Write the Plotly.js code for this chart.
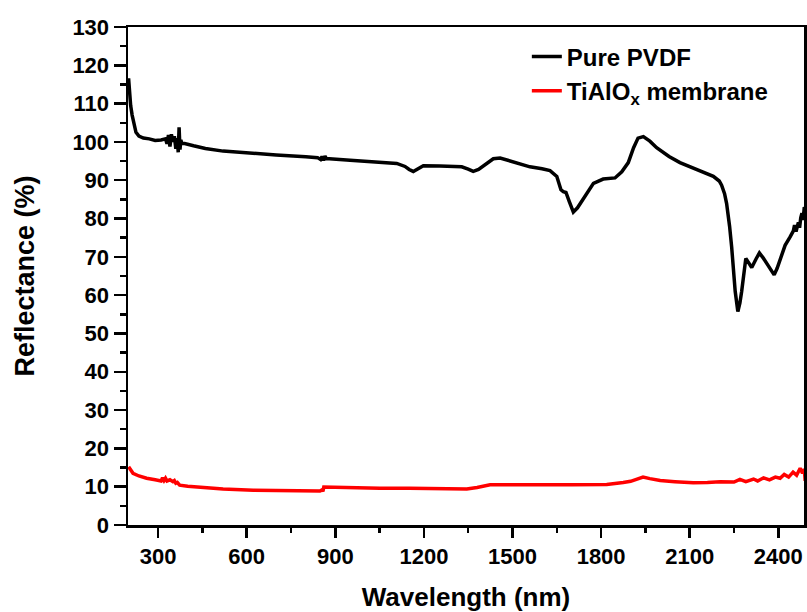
<!DOCTYPE html>
<html>
<head>
<meta charset="utf-8">
<script src="https://cdn.plot.ly/plotly-3.0.1.min.js"></script>
<style>html,body{margin:0;padding:0;background:#fff;}#chart{width:807px;height:612px;}</style>
</head>
<body>
<div id="chart"></div>
<script>
// Pure PVDF reflectance
var pvdfWavelength = [200,203,207,212,218,225,235,250,270,290,310,325,330,335,340,345,350,355,360,365,368,371,374,377,380,390,420,460,520,600,700,800,840,850,855,860,865,870,880,950,1050,1108,1136,1150,1164,1180,1198,1254,1328,1350,1367,1385,1401,1420,1435,1458,1480,1503,1559,1600,1627,1650,1664,1672,1681,1692,1706,1720,1734,1755,1774,1807,1847,1870,1892,1910,1925,1943,1965,1988,2030,2067,2100,2135,2180,2200,2208,2218,2225,2235,2242,2254,2263,2270,2276,2290,2300,2310,2325,2336,2348,2361,2375,2386,2396,2406,2423,2440,2451,2455,2460,2468,2472,2476,2480,2484,2488,2491];
var pvdfReflectance = [116.6,112,109.5,107,104.5,102.5,101.5,101,100.8,100.4,100.5,100.8,99.5,101.8,98.8,102,100,101.5,98.2,101,97.3,103.8,98,100.5,99.6,99.6,99,98.3,97.6,97.1,96.6,96.1,95.9,95.4,96.2,95.2,96.3,95.6,95.6,95.2,94.8,94.4,93.6,92.8,92.3,93.0,93.8,93.7,93.5,92.9,92.3,92.8,93.7,94.8,95.6,95.8,95.3,94.6,93.5,93.0,92.5,91.0,87.5,87.0,86.8,84.5,81.7,82.8,84.5,87.3,89.2,90.3,90.6,92.2,94.6,98.5,101.0,101.4,100.2,98.5,96.2,94.6,93.5,92.5,91.0,89.8,88.7,86.5,83.9,78,72.6,61,55.7,58,61,69.6,68.5,67.2,69.5,71,69.8,68.3,66.5,65.3,67,69.2,73,75.2,76.8,78.3,76.6,79,77.6,80.2,81.4,79.6,83,81.5];

// TiAlOx membrane reflectance
var tialoxWavelength = [200,205,215,235,261,290,310,315,320,325,330,340,350,355,360,365,373,400,452,520,622,750,848,855,858,861,900,961,1051,1150,1250,1345,1380,1424,1500,1616,1700,1819,1850,1875,1900,1926,1942,1965,2000,2050,2112,2160,2203,2250,2270,2290,2316,2330,2350,2370,2390,2406,2420,2435,2450,2462,2474,2482,2488,2491];
var tialoxReflectance = [15.2,14.5,13.5,12.8,12.2,11.8,11.5,12.3,11.6,12.2,11.5,11.8,11.3,11.6,10.9,11.1,10.4,10.1,9.7,9.4,9.1,9.0,8.9,9.2,8.8,9.9,9.8,9.7,9.6,9.6,9.5,9.4,9.8,10.5,10.5,10.4,10.5,10.6,10.8,11.1,11.4,12.2,12.5,12.1,11.6,11.3,11.0,11.1,11.3,11.2,11.9,11.3,12.0,11.5,12.3,11.8,12.5,12.2,13.2,12.5,13.8,13.0,14.8,13.5,14.6,11.5];

var seriesNames = ['Pure PVDF', 'TiAlO<sub>x</sub> membrane'];

var FONT = 'Liberation Sans, Arial, sans-serif';

var traces = [
  {x: pvdfWavelength, y: pvdfReflectance, name: seriesNames[0], type: 'scatter', mode: 'lines',
   line: {color: '#000000', width: 3.5}},
  {x: tialoxWavelength, y: tialoxReflectance, name: seriesNames[1], type: 'scatter', mode: 'lines',
   line: {color: '#ff0000', width: 3.5}}
];

var axisCommon = {
  showgrid: false, zeroline: false,
  showline: true, linecolor: '#000', linewidth: 2.5, mirror: true,
  ticks: 'outside', tickcolor: '#000', tickwidth: 2.5,
  tickfont: {family: FONT, size: 22, color: '#000', weight: 'bold'}
};

var layout = {
  width: 807, height: 612,
  paper_bgcolor: '#fff', plot_bgcolor: '#fff',
  margin: {l: 128, r: 3, t: 27, b: 87},
  showlegend: true,
  legend: {x: 0.59, y: 0.985, xanchor: 'left', yanchor: 'top', bgcolor: 'rgba(0,0,0,0)',
           font: {family: FONT, size: 24, color: '#000', weight: 'bold'}, tracegroupgap: 0},
  xaxis: Object.assign({}, axisCommon, {
    range: [198, 2487], tick0: 300, dtick: 300, ticklen: 10,
    minor: {dtick: 150, tick0: 150, ticklen: 5, ticks: 'outside', tickcolor: '#000', tickwidth: 2.5},
    title: {text: 'Wavelength (nm)', font: {family: FONT, size: 26, color: '#000', weight: 'bold'}, standoff: 20}
  }),
  yaxis: Object.assign({}, axisCommon, {
    range: [0, 130], tick0: 0, dtick: 10, ticklen: 12,
    minor: {dtick: 5, ticklen: 6, ticks: 'outside', tickcolor: '#000', tickwidth: 2.5},
    title: {text: 'Reflectance (%)', font: {family: FONT, size: 27, color: '#000', weight: 'bold'}, standoff: 30}
  })
};

Plotly.newPlot('chart', traces, layout, {displayModeBar: false, staticPlot: true});
</script>
</body>
</html>
